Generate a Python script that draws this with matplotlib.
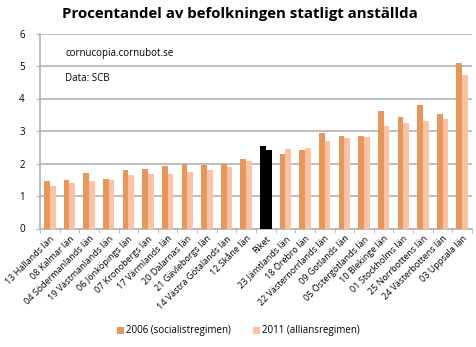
import numpy as np
import matplotlib
matplotlib.use("Agg")
import matplotlib.pyplot as plt

lan = ["13 Hallands län", "08 Kalmar län", "04 Södermanlands län", "19 Västmanlands län",
       "06 Jönköpings län", "07 Kronobergs län", "17 Värmlands län", "20 Dalarnas län",
       "21 Gävleborgs län", "14 Västra Götalands län", "12 Skåne län", "Riket",
       "23 Jämtlands län", "18 Örebro län", "22 Västernorrlands län", "09 Gotlands län",
       "05 Östergötlands län", "10 Blekinge län", "01 Stockholms län", "25 Norrbottens län",
       "24 Västerbottens län", "03 Uppsala län"]
v2006 = [1.47, 1.50, 1.72, 1.52, 1.79, 1.84, 1.92, 2.00, 1.95, 2.00, 2.15, 2.55,
         2.29, 2.41, 2.94, 2.85, 2.84, 3.63, 3.42, 3.79, 3.53, 5.08]
v2011 = [1.31, 1.41, 1.47, 1.49, 1.64, 1.69, 1.69, 1.73, 1.80, 1.88, 2.09, 2.43,
         2.44, 2.47, 2.69, 2.79, 2.81, 3.16, 3.26, 3.30, 3.38, 4.72]

C06 = "#e6975c"
C11 = "#fcc2a3"
GRID = "#b3b3b3"

plt.rcParams["font.family"] = ["Open Sans", "DejaVu Sans"]

fig = plt.figure(figsize=(4.77, 3.47), dpi=100)
ax = fig.add_axes([40 / 477, 1 - 228.5 / 347, 432 / 477, 195 / 347])

x = np.arange(len(lan))
w = 0.29
c06 = ["black" if n == "Riket" else C06 for n in lan]
c11 = ["black" if n == "Riket" else C11 for n in lan]
ax.bar(x - w / 2, v2006, w, color=c06, label="2006 (socialistregimen)", zorder=3)
ax.bar(x + w / 2, v2011, w, color=c11, label="2011 (alliansregimen)", zorder=3)

ax.set_xlim(-0.5, len(lan) - 0.5)
ax.set_ylim(0, 6)
ax.set_yticks(range(7))
ax.yaxis.grid(True, color=GRID, lw=1.2, zorder=0)
for s in ["top", "right"]:
    ax.spines[s].set_visible(False)
ax.spines["left"].set_color(GRID)
ax.spines["bottom"].set_color(GRID)
ax.spines["left"].set_linewidth(1.2)
ax.spines["bottom"].set_linewidth(1.2)
ax.tick_params(axis="y", length=3, color=GRID, labelsize=7, pad=8)
ax.set_xticks(x)
ax.set_xticklabels(lan, rotation=45, ha="right", rotation_mode="anchor", fontsize=6.5)
ax.tick_params(axis="x", length=0, pad=4)
ax.set_xticks(np.arange(-0.5, len(lan)), minor=True)
ax.tick_params(axis="x", which="minor", length=3, color=GRID)

ax.text(0.058, 0.885, "cornucopia.cornubot.se", transform=ax.transAxes, fontsize=7)
ax.text(0.058, 0.755, "Data: SCB", transform=ax.transAxes, fontsize=7)

fig.suptitle("Procentandel av befolkningen statligt anställda", x=0.502, y=0.98,
             fontsize=10.8, fontweight="bold")
fig.legend(loc="center", bbox_to_anchor=(0.5, 1 - 331 / 347), ncol=2, frameon=False,
           fontsize=7, handlelength=0.7, handleheight=0.7, handletextpad=0.3,
           columnspacing=2.2)

fig.savefig("out.png", dpi=100)
